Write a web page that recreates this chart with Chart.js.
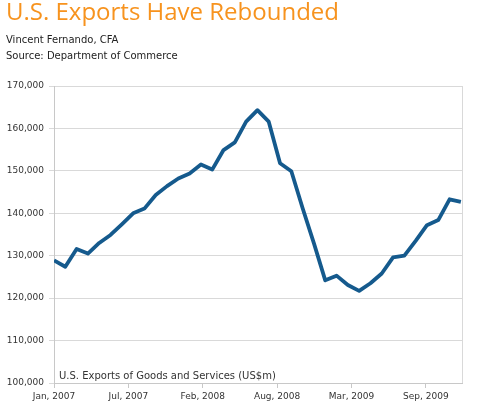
<!DOCTYPE html>
<html>
<head>
<meta charset="utf-8">
<script src="https://cdn.jsdelivr.net/npm/chart.js@4.4.0/dist/chart.umd.min.js"></script>
<style>
  html, body { margin: 0; padding: 0; background: #fff; }
</style>
</head>
<body>
<canvas id="miGrafico" width="480" height="409"></canvas>
<script>
// monthly values, Jan 2007 .. Jan 2010
const months = [
  "Jan 2007", "Feb 2007", "Mar 2007", "Apr 2007", "May 2007", "Jun 2007",
  "Jul 2007", "Aug 2007", "Sep 2007", "Oct 2007", "Nov 2007", "Dec 2007",
  "Jan 2008", "Feb 2008", "Mar 2008", "Apr 2008", "May 2008", "Jun 2008",
  "Jul 2008", "Aug 2008", "Sep 2008", "Oct 2008", "Nov 2008", "Dec 2008",
  "Jan 2009", "Feb 2009", "Mar 2009", "Apr 2009", "May 2009", "Jun 2009",
  "Jul 2009", "Aug 2009", "Sep 2009", "Oct 2009", "Nov 2009", "Dec 2009",
  "Jan 2010"
];
const exportsValues = [
  128900, 127400, 131600, 130500, 133000, 134900,
  137400, 140000, 141100, 144300, 146400, 148200,
  149400, 151500, 150300, 154900, 156700, 161600,
  164300, 161600, 151800, 149900, 141200, 132900,
  124200, 125300, 123100, 121700, 123500, 125800,
  129600, 130000, 133500, 137200, 138400, 143300,
  142700
];
// x ticks of the original date axis (in months from Jan 2007)
const tickMonths = [0, 6.58, 13.16, 19.74, 26.32, 32.9];
const tickLabels = ["Jan, 2007", "Jul, 2007", "Feb, 2008", "Aug, 2008", "Mar, 2009", "Sep, 2009"];
const seriesLabel = "U.S. Exports of Goods and Services (US$m)";

const frame = {
  id: "frame",
  afterDatasetsDraw(chart) {
    const a = chart.chartArea;
    const ctx = chart.ctx;
    ctx.save();
    ctx.strokeStyle = "#d9d9d9";
    ctx.lineWidth = 1;
    ctx.beginPath();
    ctx.moveTo(Math.round(a.right) + 0.5, a.top);
    ctx.lineTo(Math.round(a.right) + 0.5, a.bottom);
    ctx.stroke();
    ctx.fillStyle = "#333";
    ctx.font = '10px "DejaVu Sans"';
    ctx.textBaseline = "middle";
    ctx.fillText(seriesLabel, a.left + 5, a.bottom - 7);
    ctx.restore();
  }
};

let ctx = document.getElementById("miGrafico").getContext("2d");

let chart = new Chart(ctx, {
  type: "line",
  data: {
    datasets: [
      {
        label: seriesLabel,
        data: exportsValues.map((v, i) => ({ x: i, y: v })),
        borderColor: "#155a8d",
        borderWidth: 3.8,
        pointRadius: 0,
        tension: 0,
        borderJoinStyle: "round",
      },
    ],
  },
  options: {
    responsive: false,
    animation: false,
    layout: { padding: { left: 6, right: 18, top: 0, bottom: 0 } },
    plugins: {
      legend: { display: false },
      tooltip: { enabled: false },
      title: {
        display: true,
        align: "start",
        text: "U.S. Exports Have Rebounded",
        color: "#f7931e",
        font: { family: "Open Sans", size: 24, weight: "normal", lineHeight: 1 },
        padding: { top: 1, bottom: 5 },
      },
      subtitle: {
        display: true,
        align: "start",
        text: ["Vincent Fernando, CFA", "Source: Department of Commerce"],
        color: "#222",
        font: { family: "DejaVu Sans", size: 10, lineHeight: 1.55 },
        padding: { top: 3, bottom: 22 },
      },
    },
    scales: {
      x: {
        type: "linear",
        min: 0,
        max: 36.1,
        afterBuildTicks: (axis) => {
          axis.ticks = tickMonths.map((v) => ({ value: v }));
        },
        afterFit: (axis) => {
          axis.height = 26;
        },
        grid: { drawOnChartArea: false, tickLength: 5, color: "#c8c8c8" },
        border: { color: "#c8c8c8" },
        ticks: {
          autoSkip: false,
          maxRotation: 0,
          padding: 3,
          color: "#333",
          font: { family: "DejaVu Sans", size: 9 },
          callback: (value, index) => tickLabels[index],
        },
      },
      y: {
        min: 100000,
        max: 170000,
        afterFit: (axis) => {
          axis.width = 48;
        },
        grid: { color: "#d9d9d9", tickLength: 5 },
        border: { color: "#c8c8c8" },
        ticks: {
          stepSize: 10000,
          padding: 5,
          color: "#333",
          font: { family: "DejaVu Sans", size: 9 },
          callback: (value) => value.toLocaleString("en-US"),
        },
      },
    },
  },
  plugins: [frame],
});
</script>
</body>
</html>
